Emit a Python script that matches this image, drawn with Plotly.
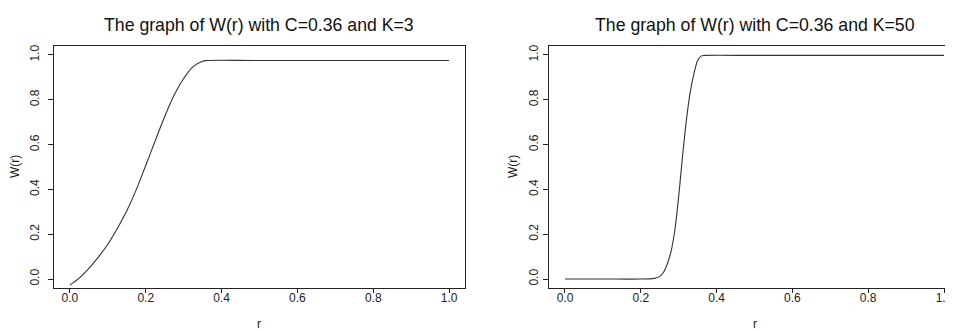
import plotly.graph_objects as go

# Data
r_k3 = [0.0, 0.025, 0.05, 0.075, 0.1, 0.125, 0.15, 0.175, 0.2, 0.225, 0.25, 0.275, 0.3, 0.325, 0.35, 0.36, 0.5, 0.75, 1.0]
w_k3 = [-0.027, 0.005, 0.048, 0.098, 0.155, 0.226, 0.305, 0.399, 0.507, 0.617, 0.725, 0.821, 0.895, 0.948, 0.972, 0.975, 0.975, 0.975, 0.975]

r_k50 = [0.0, 0.1, 0.2, 0.23, 0.24, 0.25, 0.26, 0.27, 0.28, 0.29, 0.30, 0.31, 0.32, 0.33, 0.34, 0.35, 0.36, 0.37, 0.5, 0.75, 1.0]
w_k50 = [0.0, 0.0, 0.0, 0.002, 0.005, 0.012, 0.03, 0.068, 0.125, 0.22, 0.37, 0.545, 0.705, 0.83, 0.915, 0.975, 0.996, 0.998, 0.998, 0.998, 0.998]

titles = ["The graph of W(r) with C=0.36 and K=3", "The graph of W(r) with C=0.36 and K=50"]
x_ticks = [0.0, 0.2, 0.4, 0.6, 0.8, 1.0]
y_ticks = [0.0, 0.2, 0.4, 0.6, 0.8, 1.0]
tick_text = ["0.0", "0.2", "0.4", "0.6", "0.8", "1.0"]

# The page body adds an 8px margin, so the figure is sized to fill the rest of the window
OFF = 8
FW, FH = 953 - OFF, 331 - OFF
FONT = "Liberation Sans, Arial, Helvetica, sans-serif"
line_col = "#222222"


def px(x):  # screen x -> paper fraction
    return (x - OFF) / FW


def py(y):  # screen y -> paper fraction
    return (FH - (y - OFF)) / FH


fig = go.Figure()
fig.add_trace(go.Scatter(x=r_k3, y=w_k3, mode="lines", line=dict(color="#333333", width=1.1, shape="spline", smoothing=1.0),
                         xaxis="x", yaxis="y", showlegend=False, hoverinfo="skip"))
fig.add_trace(go.Scatter(x=r_k50, y=w_k50, mode="lines", line=dict(color="#333333", width=1.1, shape="spline", smoothing=0.8),
                         xaxis="x2", yaxis="y2", showlegend=False, hoverinfo="skip"))

y_dom = [py(288), py(46)]
x1_dom = [px(54), px(465)]
x2_dom = [px(549), 1.0]

common_x = dict(showline=True, linecolor=line_col, linewidth=1, ticks="outside", ticklen=4, tickcolor=line_col,
                tickvals=x_ticks, ticktext=tick_text, showgrid=False, zeroline=False, ticklabelstandoff=-5,
                ticklabeloverflow="allow",
                tickfont=dict(family=FONT, size=12, color="#222"), automargin=False)
common_y = dict(showline=True, linecolor=line_col, linewidth=1, ticks="outside", ticklen=5, tickcolor=line_col,
                tickvals=y_ticks, ticktext=tick_text, showgrid=False, zeroline=False, tickangle=-90,
                ticklabeloverflow="allow",
                tickfont=dict(family=FONT, size=12, color="#222"), automargin=False, range=[-0.04, 1.04])

fig.update_layout(
    width=FW, height=FH,
    margin=dict(l=0, r=0, t=0, b=0),
    paper_bgcolor="white", plot_bgcolor="white",
    font=dict(family=FONT, color="#222"),
    xaxis=dict(domain=x1_dom, range=[-0.042, 1.042], mirror=True, anchor="y", **common_x),
    yaxis=dict(domain=y_dom, mirror=True, anchor="x", ticklabelstandoff=4, **common_y),
    xaxis2=dict(domain=x2_dom, range=[-0.0422, (953 - 565) / 379], mirror=True, anchor="y2", **common_x),
    yaxis2=dict(domain=y_dom, mirror=False, anchor="x2", ticklabelstandoff=0, **common_y),
)

annotations = [
    dict(text=titles[0], x=px(259.5), y=py(25), xref="paper", yref="paper", showarrow=False,
         font=dict(family=FONT, size=17.7, color="#111"), xanchor="center", yanchor="middle"),
    dict(text=titles[1], x=px(755), y=py(25), xref="paper", yref="paper", showarrow=False,
         font=dict(family=FONT, size=17.7, color="#111"), xanchor="center", yanchor="middle"),
    dict(text="r", x=px(259.5), y=py(324), xref="paper", yref="paper", showarrow=False,
         font=dict(family=FONT, size=12, color="#222"), xanchor="center", yanchor="middle"),
    dict(text="r", x=px(755), y=py(324), xref="paper", yref="paper", showarrow=False,
         font=dict(family=FONT, size=12, color="#222"), xanchor="center", yanchor="middle"),
    dict(text="W(r)", x=px(15), y=py(167), xref="paper", yref="paper", showarrow=False, textangle=-90,
         font=dict(family=FONT, size=12, color="#222"), xanchor="center", yanchor="middle"),
    dict(text="W(r)", x=px(513), y=py(167), xref="paper", yref="paper", showarrow=False, textangle=-90,
         font=dict(family=FONT, size=12, color="#222"), xanchor="center", yanchor="middle"),
]
fig.update_layout(annotations=annotations)

fig.write_html("out.html")
